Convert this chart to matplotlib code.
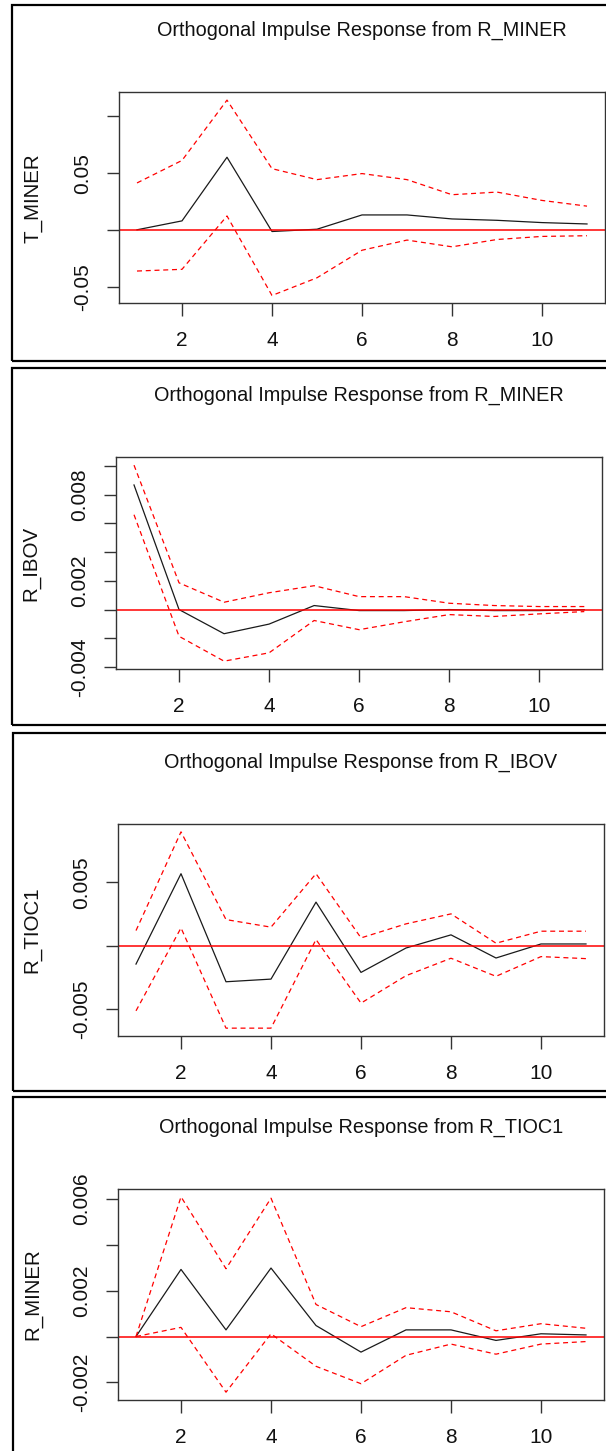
import matplotlib
matplotlib.use("Agg")
import matplotlib.pyplot as plt
from matplotlib.patches import Rectangle

plt.rcParams['font.family'] = ['Liberation Sans', 'DejaVu Sans']

steps = [1, 2, 3, 4, 5, 6, 7, 8, 9, 10, 11]

titles = ["Orthogonal Impulse Response from R_MINER",
          "Orthogonal Impulse Response from R_MINER",
          "Orthogonal Impulse Response from R_IBOV",
          "Orthogonal Impulse Response from R_TIOC1"]
ylabels = ["T_MINER", "R_IBOV", "R_TIOC1", "R_MINER"]

# panel 1: T_MINER
irf1 = [0.0005, 0.0083, 0.064, -0.001, 0.001, 0.0135, 0.0135, 0.010, 0.0088, 0.0068, 0.0056]
upper1 = [0.0415, 0.0612, 0.114, 0.054, 0.0444, 0.0497, 0.0444, 0.0312, 0.0335, 0.0262, 0.0212]
lower1 = [-0.0356, -0.0341, 0.0126, -0.057, -0.0415, -0.0174, -0.0085, -0.0144, -0.008, -0.0053, -0.0047]

# panel 2: R_IBOV
irf2 = [0.00867, 0.0, -0.00168, -0.00101, 0.00028, -0.00007, -0.00007, 0.0, -0.00007, -0.00007, -0.00001]
upper2 = [0.01005, 0.00186, 0.00051, 0.00117, 0.00166, 0.0009, 0.0009, 0.00044, 0.00028, 0.00021, 0.00021]
lower2 = [0.0066, -0.00186, -0.00359, -0.00301, -0.00076, -0.0014, -0.00085, -0.00035, -0.00048, -0.0003, -0.00014]

# panel 3: R_TIOC1
irf3 = [-0.00146, 0.00569, -0.00286, -0.00265, 0.00344, -0.00212, -0.00019, 0.00085, -0.00098, 0.00013, 0.00013]
upper3 = [0.00119, 0.0090, 0.00206, 0.00146, 0.00569, 0.00061, 0.00172, 0.00251, 0.00019, 0.00114, 0.00114]
lower3 = [-0.00516, 0.0014, -0.00653, -0.00653, 0.00048, -0.00455, -0.00238, -0.001, -0.00243, -0.00087, -0.00103]

# panel 4: R_MINER
irf4 = [0.0, 0.00293, 0.00029, 0.00299, 0.00048, -0.00068, 0.00029, 0.00029, -0.00017, 0.00012, 0.00007]
upper4 = [0.0, 0.0061, 0.00296, 0.00604, 0.0014, 0.00043, 0.00126, 0.00108, 0.00025, 0.00056, 0.00036]
lower4 = [0.0, 0.0004, -0.00243, 0.00012, -0.0013, -0.00206, -0.00082, -0.00033, -0.00077, -0.00033, -0.00022]

yticks1 = [-0.05, 0.0, 0.05, 0.10]
ylab1 = ["-0.05", "", "0.05", ""]
yticks2 = [-0.004, -0.002, 0.0, 0.002, 0.004, 0.006, 0.008, 0.010]
ylab2 = ["-0.004", "", "", "0.002", "", "", "0.008", ""]
yticks3 = [-0.005, 0.0, 0.005]
ylab3 = ["-0.005", "", "0.005"]
yticks4 = [-0.002, 0.0, 0.002, 0.004, 0.006]
ylab4 = ["-0.002", "", "0.002", "", "0.006"]
xticks = [2, 4, 6, 8, 10]

W, H = 606, 1451
fig = plt.figure(figsize=(W / 100, H / 100), dpi=100)

def fx(px):
    return px / W

def fy(py):
    return 1 - py / H

# plot box (x0, x1, y0, y1) and outer frame (x0, y0, y1) in pixels
boxes = [(119, 605, 92.3, 303.3), (116, 602.3, 457.3, 669),
         (118, 604, 824, 1036), (118, 604, 1189, 1400)]
borders = [(11.7, 5, 361), (12, 368, 725), (13, 733, 1091), (13, 1097, 1470)]
title_y = [30, 395, 762, 1127]
ylab_x = [33, 31, 32, 33]

data = [(irf1, upper1, lower1, yticks1, ylab1),
        (irf2, upper2, lower2, yticks2, ylab2),
        (irf3, upper3, lower3, yticks3, ylab3),
        (irf4, upper4, lower4, yticks4, ylab4)]

for i, (irf, up, lo, yt, yl) in enumerate(data):
    x0, x1, y0, y1 = boxes[i]
    ax = fig.add_axes([fx(x0), fy(y1), fx(x1) - fx(x0), fy(y0) - fy(y1)])
    ax.plot(steps, irf, color='#1a1a1a', lw=0.9)
    ax.plot(steps, up, color='red', lw=0.9, ls=(0, (4, 3)))
    ax.plot(steps, lo, color='red', lw=0.9, ls=(0, (4, 3)))
    ax.margins(x=0.04, y=0.04)
    ax.axhline(0, color='red', lw=1.1)
    ax.set_xticks(xticks)
    ax.set_yticks(yt)
    ax.set_yticklabels(yl)
    ax.tick_params(axis='both', length=9, width=1.0, color='#333333',
                   labelsize=15, labelcolor='#111111')
    ax.tick_params(axis='x', pad=11)
    ax.tick_params(axis='y', pad=10, labelrotation=90)
    for lab in ax.get_yticklabels():
        lab.set_va('center')
    for s in ax.spines.values():
        s.set_linewidth(1.0)
        s.set_color('#333333')
    fig.text(fx((x0 + x1) / 2), fy(title_y[i]), titles[i], ha='center', va='center',
             fontsize=14.3, color='#111111')
    fig.text(fx(ylab_x[i]), fy((y0 + y1) / 2), ylabels[i], rotation=90,
             ha='center', va='center', fontsize=14.8, color='#111111')
    bx, by0, by1 = borders[i]
    fig.patches.append(Rectangle((fx(bx), fy(by1)), fx(620) - fx(bx), fy(by0) - fy(by1),
                                 transform=fig.transFigure, fill=False,
                                 edgecolor='black', lw=1.6))

fig.savefig("out.png", dpi=100)
